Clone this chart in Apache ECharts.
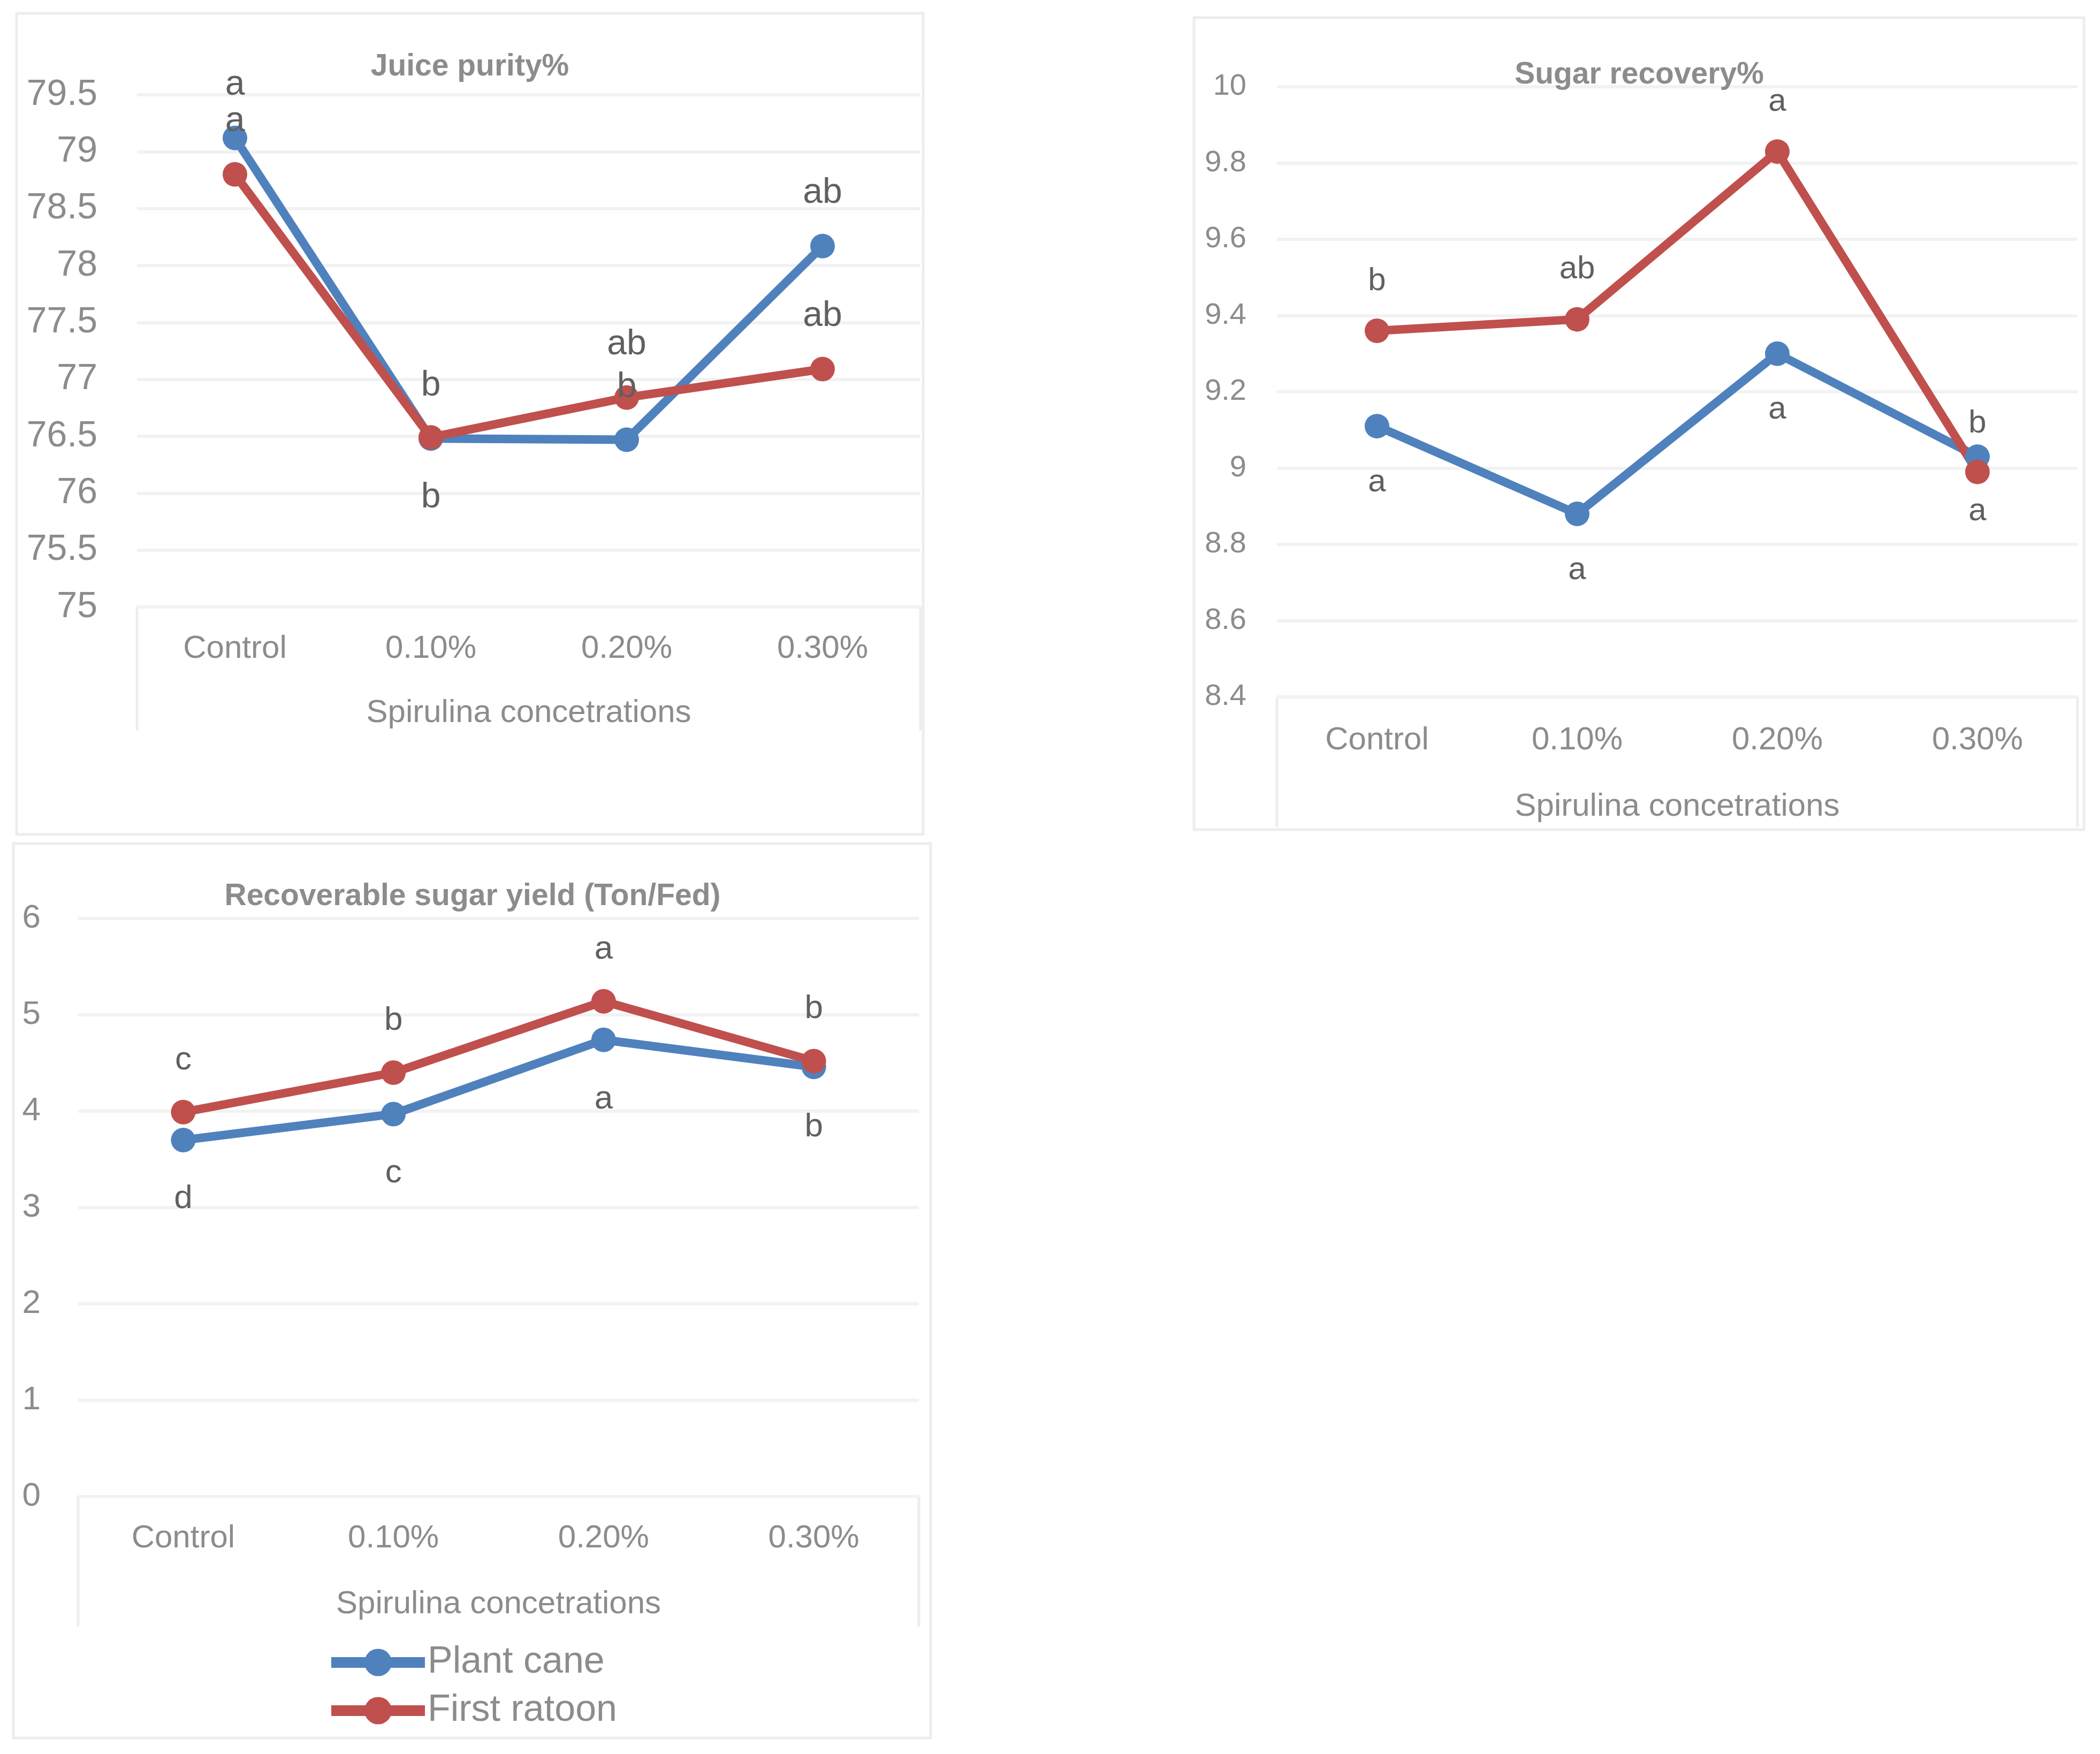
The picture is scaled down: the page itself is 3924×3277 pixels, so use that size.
<!DOCTYPE html>
<html><head><meta charset="utf-8">
<script src="https://cdn.jsdelivr.net/npm/echarts@6/dist/echarts.min.js"></script>
<style>html,body{margin:0;padding:0;background:#fff}#c{width:3924px;height:3277px}</style>
</head><body><div id="c"></div>
<script>
// ---------- data ----------
const categories = ['Control', '0.10%', '0.20%', '0.30%'];
const seriesNames = ['Plant cane', 'First ratoon'];
const xAxisTitle = 'Spirulina concetrations';
const chartTitles = ['Juice purity%', 'Sugar recovery%', 'Recoverable sugar yield (Ton/Fed)'];

const purityPlant = [79.12, 76.48, 76.47, 78.17];
const purityRatoon = [78.80, 76.49, 76.84, 77.09];
const purityPlantLetters = ['a', 'b', 'b', 'ab'];
const purityRatoonLetters = ['a', 'b', 'ab', 'ab'];
const purityTicks = [75, 75.5, 76, 76.5, 77, 77.5, 78, 78.5, 79, 79.5];

const recoveryPlant = [9.11, 8.88, 9.30, 9.03];
const recoveryRatoon = [9.36, 9.39, 9.83, 8.99];
const recoveryPlantLetters = ['a', 'a', 'a', 'b'];
const recoveryRatoonLetters = ['b', 'ab', 'a', 'a'];
const recoveryTicks = [8.4, 8.6, 8.8, 9, 9.2, 9.4, 9.6, 9.8, 10];

const yieldPlant = [3.70, 3.97, 4.74, 4.46];
const yieldRatoon = [3.99, 4.40, 5.14, 4.52];
const yieldPlantLetters = ['d', 'c', 'a', 'b'];
const yieldRatoonLetters = ['c', 'b', 'a', 'b'];
const yieldTicks = [0, 1, 2, 3, 4, 5, 6];

// ---------- layout / style ----------
const FONT = '"Liberation Sans", Arial, sans-serif';
const BLUE = '#4F81BD', RED = '#C0504D';
const AXIS_GRAY = '#8C8C8C', LABEL_GRAY = '#606060', GRID_GRAY = '#F2F2F2', BORDER = '#EDEDED';

const panels = [
  { grid: {left: 256, top: 177, width: 1464, height: 957}, ticks: purityTicks, yFont: 68, yMargin: 74, xMargin: 48, nameGap: 168,
    title: {x: 878, y: 125},
    box: [31, 25, 1725, 1559], axisBoxBottom: 1365,
    plant: purityPlant, ratoon: purityRatoon, pL: purityPlantLetters, rL: purityRatoonLetters,
    pPos: ['top', 'bottom', 'top', 'top'], rPos: ['top', 'top', 'top', 'top'],
    pDist: [43, 55, 42, 43], rDist: [43, 40, 43, 43], labelFont: 66 },
  { grid: {left: 2386, top: 162, width: 1496, height: 1140}, ticks: recoveryTicks, yFont: 56, yMargin: 57, xMargin: 51, nameGap: 175,
    title: {x: 3063, y: 140},
    box: [2231, 33, 3894, 1550], axisBoxBottom: 1545,
    plant: recoveryPlant, ratoon: recoveryRatoon, pL: recoveryPlantLetters, rL: recoveryRatoonLetters,
    pPos: ['bottom', 'bottom', 'bottom', 'top'], rPos: ['top', 'top', 'top', 'bottom'],
    pDist: [52, 52, 52, 9], rDist: [40, 40, 40, 21], labelFont: 60 },
  { grid: {left: 146, top: 1716, width: 1571, height: 1080}, ticks: yieldTicks, yFont: 62, yMargin: 70, xMargin: 48, nameGap: 171,
    title: {x: 883, y: 1675},
    box: [25, 1576, 1739, 3247], axisBoxBottom: 3039,
    plant: yieldPlant, ratoon: yieldRatoon, pL: yieldPlantLetters, rL: yieldRatoonLetters,
    pPos: ['bottom', 'bottom', 'bottom', 'bottom'], rPos: ['top', 'top', 'top', 'top'],
    pDist: [56, 57, 57, 59], rDist: [43, 43, 43, 43], labelFont: 62 }
];

const grids = [], xAxes = [], yAxes = [], series = [], graphics = [];

panels.forEach((p, k) => {
  grids.push(Object.assign({containLabel: false}, p.grid));
  xAxes.push({
    type: 'category', gridIndex: k, data: categories,
    axisLine: {show: false}, axisTick: {show: false},
    axisLabel: {color: AXIS_GRAY, fontSize: 60, fontFamily: FONT, margin: p.xMargin},
    name: xAxisTitle, nameLocation: 'middle', nameGap: p.nameGap,
    nameTextStyle: {color: AXIS_GRAY, fontSize: 60, fontFamily: FONT}
  });
  const t = p.ticks;
  yAxes.push({
    type: 'value', gridIndex: k, min: t[0], max: t[t.length - 1], interval: t[1] - t[0],
    axisLine: {show: false}, axisTick: {show: false},
    axisLabel: {color: AXIS_GRAY, fontSize: p.yFont, fontFamily: FONT, margin: p.yMargin,
      formatter: v => String(+v.toFixed(2))},
    splitLine: {show: true, lineStyle: {color: GRID_GRAY, width: 6}}
  });
  const mk = (name, vals, letters, pos, dist, color) => ({
    type: 'line', name, xAxisIndex: k, yAxisIndex: k,
    data: vals.map((v, i) => ({value: v, label: {position: pos[i], distance: dist[i]}})),
    symbol: 'circle', symbolSize: 46, showSymbol: true,
    lineStyle: {color, width: 16}, itemStyle: {color},
    label: {show: true, color: LABEL_GRAY, fontSize: p.labelFont, fontFamily: FONT,
      formatter: prm => letters[prm.dataIndex]},
    emphasis: {disabled: true}, animation: false
  });
  series.push(mk(seriesNames[0], p.plant, p.pL, p.pPos, p.pDist, BLUE));
  series.push(mk(seriesNames[1], p.ratoon, p.rL, p.rPos, p.rDist, RED));

  const [x1, y1, x2, y2] = p.box;
  graphics.push({type: 'rect', shape: {x: x1, y: y1, width: x2 - x1, height: y2 - y1},
    style: {fill: null, stroke: BORDER, lineWidth: 5}, z: -1});
  const gb = p.grid.top + p.grid.height;
  const gl = p.grid.left, gr = p.grid.left + p.grid.width;
  graphics.push({type: 'line', shape: {x1: gl, y1: gb, x2: gl, y2: p.axisBoxBottom}, style: {stroke: BORDER, lineWidth: 5}, z: -1});
  graphics.push({type: 'line', shape: {x1: gr, y1: gb, x2: gr, y2: p.axisBoxBottom}, style: {stroke: BORDER, lineWidth: 5}, z: -1});
  graphics.push({type: 'text', x: p.title.x, y: p.title.y, z: 100,
    style: {text: chartTitles[k], fill: AXIS_GRAY, font: 'bold 57px ' + FONT, align: 'center', verticalAlign: 'middle'}});
});

const chart = echarts.init(document.getElementById('c'), null, {renderer: 'canvas'});
chart.setOption({
  backgroundColor: '#ffffff',
  animation: false,
  grid: grids, xAxis: xAxes, yAxis: yAxes, series,
  graphic: {elements: graphics},
  legend: {
    data: seriesNames, orient: 'vertical', left: 604, top: 3066,
    itemWidth: 175, itemHeight: 64, itemGap: 20,
    lineStyle: {width: 20},
    textStyle: {color: AXIS_GRAY, fontSize: 70, fontFamily: FONT},
    selectedMode: false
  }
});
</script></body></html>
